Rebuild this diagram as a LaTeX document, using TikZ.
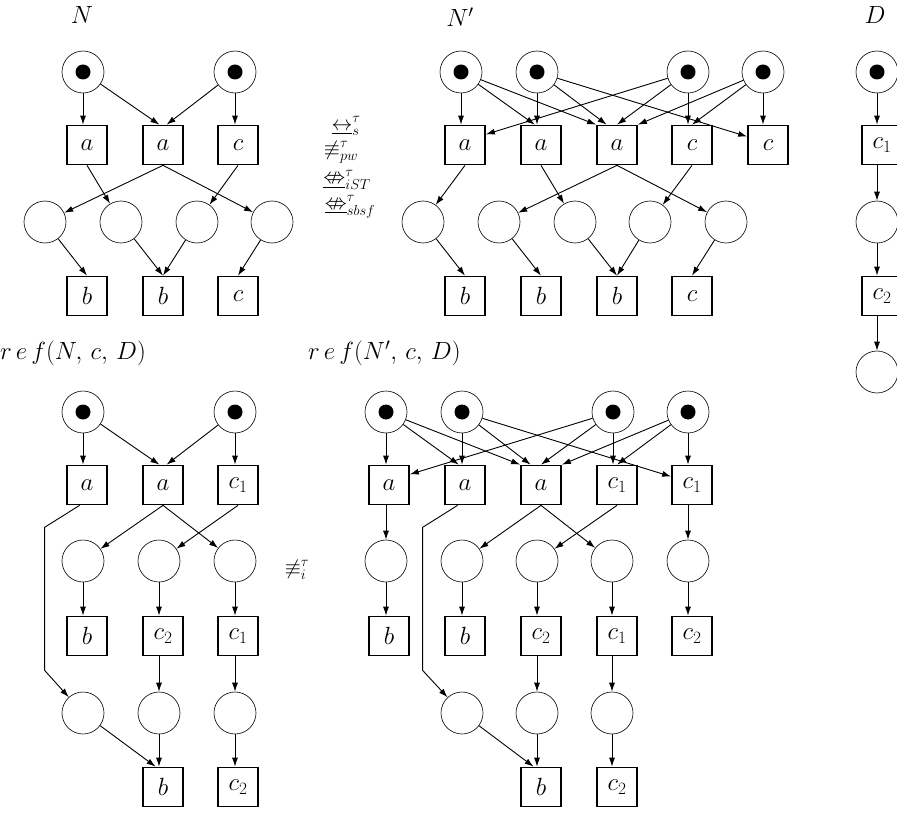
\documentclass[tikz,border=0pt]{standalone}
\usepackage{amssymb}
\usetikzlibrary{arrows.meta}
\tikzset{
  place/.style={circle, draw, line width=0.6pt, minimum size=42pt, inner sep=0pt},
  marked/.style={place, path picture={\fill (path picture bounding box.center) circle (7.5pt);}},
  transition/.style={rectangle, draw, line width=1.7pt, minimum width=40pt, minimum height=39pt, inner sep=0pt},
  arc/.style={-{Latex[length=9pt,width=6pt]}, line width=0.9pt},
  title/.style={inner sep=0pt},
  relation/.style={inner sep=0pt, font=\fontsize{22}{24}\selectfont}
}
\begin{document}
\begin{tikzpicture}[x=1pt, y=-1pt, font=\fontsize{25}{29}\selectfont]
\useasboundingbox (0,0) rectangle (897,813);
\clip (0,0) rectangle (897,813);
% N
\node[title] (lN) at (82,15) {$N$};
\node[marked] (nP1) at (83,72) {};
\node[marked] (nP2) at (235,72) {};
\node[transition] (nT1) at (87,145) {$a$};
\node[transition] (nT2) at (163,145) {$a$};
\node[transition] (nT3) at (238,145) {$c$};
\node[place] (nQ1) at (45,222) {};
\node[place] (nQ2) at (121,222) {};
\node[place] (nQ3) at (197,222) {};
\node[place] (nQ4) at (272,222) {};
\node[transition] (nU1) at (87,296) {$b$};
\node[transition] (nU2) at (163,296) {$b$};
\node[transition] (nU3) at (238,296) {$c$};
\draw[arc] (nP1) -- (nP1 |- nT1.north);
\draw[arc] (nP1) -- (nT2.100);
\draw[arc] (nP2) -- (nT2.80);
\draw[arc] (nP2) -- (nP2 |- nT3.north);
\draw[arc] (nT1.south) -- (nQ2);
\draw[arc] (nT2.south) -- (nQ1);
\draw[arc] (nT2.south) -- (nQ4);
\draw[arc] (nT3.south) -- (nQ3);
\draw[arc] (nQ1) -- (nU1.north);
\draw[arc] (nQ2) -- (nU2.north);
\draw[arc] (nQ3) -- (nU2.north);
\draw[arc] (nQ4) -- (nU3.north);
% relations between N and N'
\node[relation] (eqS) at (346,126) {$\underline{\leftrightarrow}^{\tau}_{s}$};
\node[relation] (eqPW) at (341,152) {$\not\equiv^{\tau}_{pw}$};
\node[relation] (eqIST) at (347,180) {$\underline{\nLeftrightarrow}^{\tau}_{iST}$};
\node[relation] (eqSBSF) at (350,207) {$\underline{\nLeftrightarrow}^{\tau}_{sbsf}$};
% N'
\node[title] (lM) at (460,17) {$N'$};
\node[marked] (mP1) at (461,72) {};
\node[marked] (mP2) at (537,72) {};
\node[marked] (mP3) at (688,72) {};
\node[marked] (mP4) at (763,72) {};
\node[transition] (mT1) at (465,145) {$a$};
\node[transition] (mT2) at (541,145) {$a$};
\node[transition] (mT3) at (617,145) {$a$};
\node[transition] (mT4) at (692,145) {$c$};
\node[transition] (mT5) at (768,145) {$c$};
\node[place] (mQ1) at (423,222) {};
\node[place] (mQ2) at (499,222) {};
\node[place] (mQ3) at (575,222) {};
\node[place] (mQ4) at (650,222) {};
\node[place] (mQ5) at (726,222) {};
\node[transition] (mU1) at (465,296) {$b$};
\node[transition] (mU2) at (541,296) {$b$};
\node[transition] (mU3) at (617,296) {$b$};
\node[transition] (mU4) at (692,296) {$c$};
\draw[arc] (mP1) -- (mP1 |- mT1.north);
\draw[arc] (mP1) -- (mT2.107);
\draw[arc] (mP1) -- (mT3.north west);
\draw[arc] (mP2) -- (mP2 |- mT2.north);
\draw[arc] (mP2) -- (mT3.117);
\draw[arc] (mP2) -- (mT5.158);
\draw[arc] (mP3) -- (mT1.27);
\draw[arc] (mP3) -- (mT3.north);
\draw[arc] (mP3) -- (mP3 |- mT4.north);
\draw[arc] (mP4) -- (mT3.north east);
\draw[arc] (mP4) -- (mT4.north);
\draw[arc] (mP4) -- (mP4 |- mT5.north);
\draw[arc] (mT1.south) -- (mQ1);
\draw[arc] (mT2.south) -- (mQ3);
\draw[arc] (mT3.south) -- (mQ2);
\draw[arc] (mT3.south) -- (mQ5);
\draw[arc] (mT4.south) -- (mQ4);
\draw[arc] (mQ1) -- (mU1.north);
\draw[arc] (mQ2) -- (mU2.north);
\draw[arc] (mQ3) -- (mU3.north);
\draw[arc] (mQ4) -- (mU3.north);
\draw[arc] (mQ5) -- (mU4.north);
% D
\node[title] (lD) at (875,15) {$D$};
\node[marked] (dP1) at (877,72) {};
\node[transition] (dT1) at (882,145) {$c_1$};
\node[place] (dP2) at (877,222) {};
\node[transition] (dT2) at (882,296) {$c_2$};
\node[place] (dP3) at (877,372) {};
\draw[arc] (dP1) -- (dP1 |- dT1.north);
\draw[arc] (dT1.south -| dP2) -- (dP2);
\draw[arc] (dP2) -- (dP2 |- dT2.north);
\draw[arc] (dT2.south -| dP3) -- (dP3);
% ref(N,c,D)
\node[title, anchor=west] (lR) at (0,353) {$r\,e\,f(N,\,c,\,D)$};
\node[marked] (rP1) at (83,412) {};
\node[marked] (rP2) at (235,412) {};
\node[transition] (rT1) at (87,485) {$a$};
\node[transition] (rT2) at (163,485) {$a$};
\node[transition] (rT3) at (238,485) {$c_1$};
\node[place] (rQ1) at (83,561) {};
\node[place] (rQ2) at (159,561) {};
\node[place] (rQ3) at (235,561) {};
\node[transition] (rU1) at (87,636) {$b$};
\node[transition] (rU2) at (163,636) {$c_2$};
\node[transition] (rU3) at (238,636) {$c_1$};
\node[place] (rR1) at (83,713) {};
\node[place] (rR2) at (159,713) {};
\node[place] (rR3) at (235,713) {};
\node[transition] (rV1) at (163,787) {$b$};
\node[transition] (rV2) at (238,787) {$c_2$};
\draw[arc] (rP1) -- (rP1 |- rT1.north);
\draw[arc] (rP1) -- (rT2.100);
\draw[arc] (rP2) -- (rT2.80);
\draw[arc] (rP2) -- (rP2 |- rT3.north);
\draw[arc] (rT1.250) -- ++(-35,22) -- ++(0,143) -- (rR1);
\draw[arc] (rT2.south) -- (rQ1);
\draw[arc] (rT2.south) -- (rQ3);
\draw[arc] (rT3.south) -- (rQ2);
\draw[arc] (rQ1) -- (rQ1 |- rU1.north);
\draw[arc] (rQ2) -- (rQ2 |- rU2.north);
\draw[arc] (rQ3) -- (rQ3 |- rU3.north);
\draw[arc] (rU2.south -| rR2) -- (rR2);
\draw[arc] (rU3.south -| rR3) -- (rR3);
\draw[arc] (rR1) -- (rV1.110);
\draw[arc] (rR2) -- (rR2 |- rV1.north);
\draw[arc] (rR3) -- (rR3 |- rV2.north);
% relation between the refinements
\node[relation] (eqI) at (297,570) {$\not\equiv^{\tau}_{i}$};
% ref(N',c,D)
\node[title, anchor=west] (lS) at (308,353) {$r\,e\,f(N',\,c,\,D)$};
\node[marked] (sP1) at (386,412) {};
\node[marked] (sP2) at (462,412) {};
\node[marked] (sP3) at (613,412) {};
\node[marked] (sP4) at (688,412) {};
\node[transition] (sT1) at (389,485) {$a$};
\node[transition] (sT2) at (465,485) {$a$};
\node[transition] (sT3) at (541,485) {$a$};
\node[transition] (sT4) at (617,485) {$c_1$};
\node[transition] (sT5) at (692,485) {$c_1$};
\node[place] (sQ1) at (386,561) {};
\node[place] (sQ2) at (462,561) {};
\node[place] (sQ3) at (537,561) {};
\node[place] (sQ4) at (612,561) {};
\node[place] (sQ5) at (688,561) {};
\node[transition] (sU1) at (389,636) {$b$};
\node[transition] (sU2) at (465,636) {$b$};
\node[transition] (sU3) at (541,636) {$c_2$};
\node[transition] (sU4) at (617,636) {$c_1$};
\node[transition] (sU5) at (692,636) {$c_2$};
\node[place] (sR1) at (462,713) {};
\node[place] (sR2) at (537,713) {};
\node[place] (sR3) at (612,713) {};
\node[transition] (sV1) at (541,787) {$b$};
\node[transition] (sV2) at (617,787) {$c_2$};
\draw[arc] (sP1) -- (sP1 |- sT1.north);
\draw[arc] (sP1) -- (sT2.107);
\draw[arc] (sP1) -- (sT3.north west);
\draw[arc] (sP2) -- (sP2 |- sT2.north);
\draw[arc] (sP2) -- (sT3.117);
\draw[arc] (sP2) -- (sT5.158);
\draw[arc] (sP3) -- (sT1.27);
\draw[arc] (sP3) -- (sT3.north);
\draw[arc] (sP3) -- (sP3 |- sT4.north);
\draw[arc] (sP4) -- (sT3.north east);
\draw[arc] (sP4) -- (sT4.north);
\draw[arc] (sP4) -- (sP4 |- sT5.north);
\draw[arc] (sT1.south -| sQ1) -- (sQ1);
\draw[arc] (sT2.250) -- ++(-35,22) -- ++(0,143) -- (sR1);
\draw[arc] (sT3.south) -- (sQ2);
\draw[arc] (sT3.south) -- (sQ4);
\draw[arc] (sT4.south) -- (sQ3);
\draw[arc] (sT5.south -| sQ5) -- (sQ5);
\draw[arc] (sQ1) -- (sQ1 |- sU1.north);
\draw[arc] (sQ2) -- (sQ2 |- sU2.north);
\draw[arc] (sQ3) -- (sQ3 |- sU3.north);
\draw[arc] (sQ4) -- (sQ4 |- sU4.north);
\draw[arc] (sQ5) -- (sQ5 |- sU5.north);
\draw[arc] (sU3.south -| sR2) -- (sR2);
\draw[arc] (sU4.south -| sR3) -- (sR3);
\draw[arc] (sR1) -- (sV1.110);
\draw[arc] (sR2) -- (sR2 |- sV1.north);
\draw[arc] (sR3) -- (sR3 |- sV2.north);
\end{tikzpicture}
\end{document}
